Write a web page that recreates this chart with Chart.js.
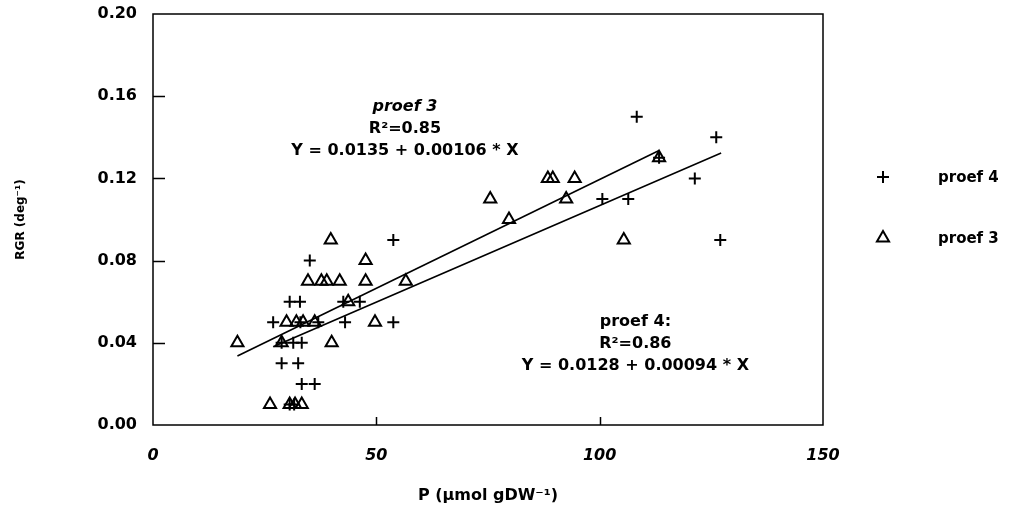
<!DOCTYPE html>
<html>
<head>
<meta charset="utf-8">
<script src="https://cdn.jsdelivr.net/npm/chart.js@4/dist/chart.umd.min.js"></script>
<style>
  html, body { margin:0; padding:0; background:#fff; }
  #wrap { width:1013px; height:514px; }
</style>
</head>
<body>
<div id="wrap"><canvas id="rgrChart" width="1013" height="514"></canvas></div>
<script>
// ---- Data ----
// proef 4 : crosses
const proef4X = [26.9, 30.6, 32.9, 42.6, 46.3, 35.1, 53.8, 33.0, 37.0, 43.0, 53.8,
                 28.8, 31.4, 33.3, 28.8, 32.5, 33.3, 36.2, 30.6, 31.6,
                 100.6, 106.4, 108.3, 126.1, 121.3, 127.0, 113.3];
const proef4Y = [0.05, 0.06, 0.06, 0.06, 0.06, 0.08, 0.09, 0.05, 0.05, 0.05, 0.05,
                 0.04, 0.04, 0.04, 0.03, 0.03, 0.02, 0.02, 0.01, 0.01,
                 0.11, 0.11, 0.15, 0.14, 0.12, 0.09, 0.13];

// proef 3 : triangles
const proef3X = [18.9, 28.8, 40.0, 26.2, 30.6, 31.8, 33.3, 29.9, 32.1, 33.6, 36.2, 49.7,
                 43.7, 34.7, 37.7, 38.9, 41.8, 47.6, 56.6, 47.6, 39.8,
                 79.7, 75.5, 92.5, 88.4, 89.5, 94.4, 113.3, 105.4];
const proef3Y = [0.04, 0.04, 0.04, 0.01, 0.01, 0.01, 0.01, 0.05, 0.05, 0.05, 0.05, 0.05,
                 0.06, 0.07, 0.07, 0.07, 0.07, 0.07, 0.07, 0.08, 0.09,
                 0.10, 0.11, 0.11, 0.12, 0.12, 0.12, 0.13, 0.09];

// regression lines: intercept, slope, x range
const fit3 = { a: 0.0135, b: 0.00106, xMin: 18.9, xMax: 113.3 };
const fit4 = { a: 0.0128, b: 0.00094, xMin: 26.9, xMax: 127.2 };

const xTicks = [0, 50, 100, 150];
const yTicks = [0.00, 0.04, 0.08, 0.12, 0.16, 0.20];

// annotation text blocks, anchored in data coords
const note3Lines = ['proef 3', 'R²=0.85', 'Y = 0.0135 + 0.00106 * X'];
const note3At    = { x: 56.4, y: 0.155 };
const note4Lines = ['proef 4:', 'R²=0.86', 'Y = 0.0128 + 0.00094 * X'];
const note4At    = { x: 108.0, y: 0.050 };

const FONT = 'DejaVu Sans';

// ---- Helpers ----
const toPoints = (xs, ys) => xs.map((x, i) => ({ x, y: ys[i] }));
const fitLine  = f => [f.xMin, f.xMax].map(x => ({ x, y: f.a + f.b * x }));

// ---- Frame, inward ticks, notes, legend ----
const decorPlugin = {
  id: 'decor',
  afterDraw(chart) {
    const { ctx, chartArea: ca, scales } = chart;
    const xs = scales.x, ys = scales.y;
    ctx.save();
    ctx.strokeStyle = '#000';
    ctx.lineWidth = 1.5;
    ctx.strokeRect(ca.left, ca.top, ca.right - ca.left, ca.bottom - ca.top);

    // inward tick marks
    ctx.beginPath();
    yTicks.slice(1, -1).forEach(v => {
      const py = Math.round(ys.getPixelForValue(v)) + 0.5;
      ctx.moveTo(ca.left, py); ctx.lineTo(ca.left + 12, py);
    });
    xTicks.slice(1, -1).forEach(v => {
      const px = Math.round(xs.getPixelForValue(v)) + 0.5;
      ctx.moveTo(px, ca.bottom); ctx.lineTo(px, ca.bottom - 8);
    });
    ctx.stroke();

    // regression notes
    ctx.fillStyle = '#000';
    ctx.textAlign = 'center';
    ctx.textBaseline = 'middle';
    const drawNote = (lines, at, italicFirst) => {
      const cx = xs.getPixelForValue(at.x);
      const cy = ys.getPixelForValue(at.y);
      lines.forEach((t, i) => {
        ctx.font = (i === 0 && italicFirst ? 'italic ' : '') + 'bold 16px "' + FONT + '"';
        ctx.fillText(t, cx, cy + i * 22);
      });
    };
    drawNote(note3Lines, note3At, true);
    drawNote(note4Lines, note4At, false);

    // legend (scatter series only)
    ctx.textAlign = 'left';
    ctx.font = 'bold 15px "' + FONT + '"';
    const items = chart.data.datasets.filter(d => d.inLegend);
    items.forEach((d, i) => {
      const sy = 177 + i * 61;
      const sx = ca.right + 60;
      ctx.strokeStyle = '#000';
      ctx.fillStyle = 'rgba(0,0,0,0)';
      ctx.lineWidth = 2;
      Chart.helpers.drawPoint(ctx, { pointStyle: d.pointStyle, radius: d.pointRadius, borderWidth: 2, rotation: 0 }, sx, sy);
      ctx.fillStyle = '#000';
      ctx.fillText(d.label, ca.right + 115, sy + 1);
    });
    ctx.restore();
  }
};

// ---- Chart ----
new Chart(document.getElementById('rgrChart').getContext('2d'), {
  type: 'scatter',
  data: {
    datasets: [
      { label:'proef 4', inLegend:true, data: toPoints(proef4X, proef4Y), pointStyle:'cross',
        pointRadius:6, pointBorderWidth:2, borderColor:'#000', backgroundColor:'rgba(0,0,0,0)' },
      { label:'proef 3', inLegend:true, data: toPoints(proef3X, proef3Y), pointStyle:'triangle',
        pointRadius:7, pointBorderWidth:2, borderColor:'#000', backgroundColor:'rgba(0,0,0,0)' },
      { label:'fit 3', type:'line', data: fitLine(fit3), borderColor:'#000', borderWidth:1.6, pointRadius:0, fill:false },
      { label:'fit 4', type:'line', data: fitLine(fit4), borderColor:'#000', borderWidth:1.6, pointRadius:0, fill:false },
    ],
  },
  options: {
    responsive: false,
    animation: false,
    events: [],
    layout: { padding: { top:14, right:190, left:0, bottom:0 } },
    plugins: { legend:{ display:false }, tooltip:{ enabled:false } },
    scales: {
      x: {
        type:'linear', min:0, max:150,
        grid:{ display:false, drawTicks:false }, border:{ display:false },
        ticks:{ stepSize:50, padding:21, color:'#000', font:{ family:FONT, size:16, weight:'bold', style:'italic' } },
        title:{ display:true, text:'P (µmol gDW⁻¹)', color:'#000', padding:{ top:0, bottom:9 },
                font:{ family:FONT, size:16, weight:'bold' } },
        afterFit: s => { s.height = 89; s.paddingLeft = 0; s.paddingRight = 0; },
      },
      y: {
        type:'linear', min:0, max:0.2,
        grid:{ display:false, drawTicks:false }, border:{ display:false },
        ticks:{ stepSize:0.04, padding:16, color:'#000', callback: v => v.toFixed(2),
                font:{ family:FONT, size:16, weight:'bold' } },
        title:{ display:true, text:'RGR (deg⁻¹)', color:'#000', padding:{ top:14, bottom:0 },
                font:{ family:FONT, size:12, weight:'bold' } },
        afterFit: s => { s.width = 153; s.paddingTop = 0; s.paddingBottom = 0; },
      },
    },
  },
  plugins: [decorPlugin],
});
</script>
</body>
</html>
